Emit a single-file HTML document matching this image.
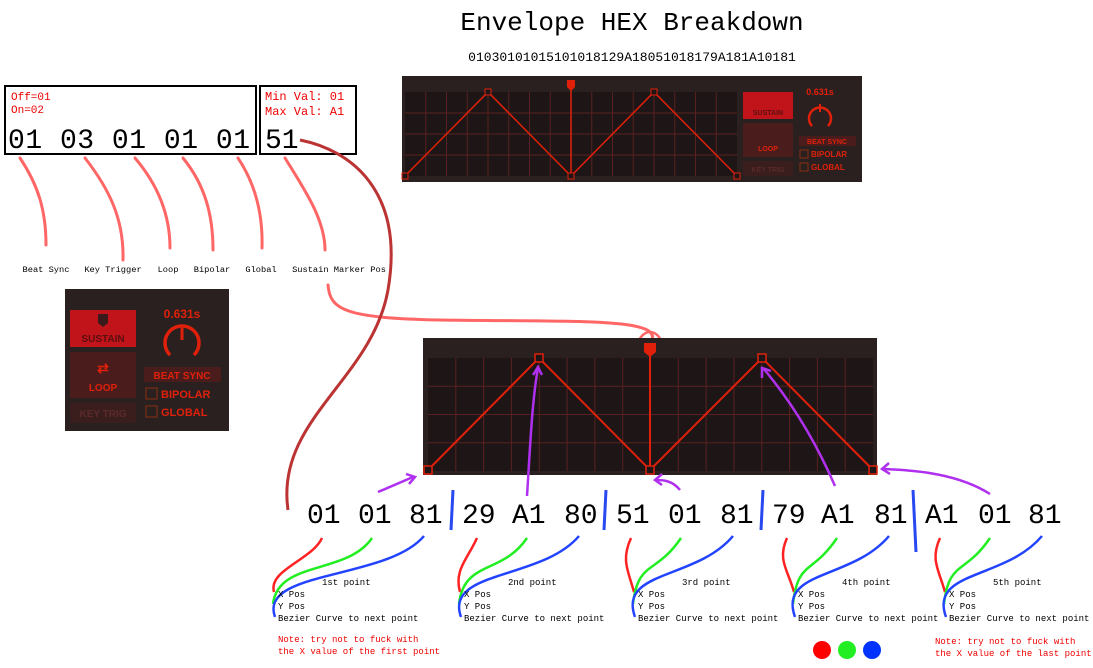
<!DOCTYPE html>
<html><head><meta charset="utf-8"><style>
body{margin:0;background:#fff;width:1093px;height:668px;overflow:hidden}
svg{display:block}
.m{font-family:"Liberation Mono",monospace}
.ui{font-family:"Liberation Sans",sans-serif;font-weight:bold}
</style></head><body>
<svg width="1093" height="668" viewBox="0 0 1093 668">
<text class="m" x="632" y="30" font-size="26" text-anchor="middle">Envelope HEX Breakdown</text>
<text class="m" x="632" y="61" font-size="13" text-anchor="middle">01030101015101018129A18051018179A181A10181</text>

<g>
<rect x="5" y="86" width="251" height="68" fill="none" stroke="#000" stroke-width="2"/>
<text class="m" x="11" y="100" font-size="11" fill="#e00">Off=01</text>
<text class="m" x="11" y="113" font-size="11" fill="#e00">On=02</text>
<text class="m" x="8" y="148" font-size="28" textLength="242">01 03 01 01 01</text>
</g>
<g>
<rect x="260" y="86" width="96" height="68" fill="none" stroke="#000" stroke-width="2"/>
<text class="m" x="265" y="100" font-size="12" fill="#e00">Min Val: 01</text>
<text class="m" x="265" y="115" font-size="12" fill="#e00">Max Val: A1</text>
<text class="m" x="265" y="148" font-size="28">51</text>
</g>

<g fill="none" stroke="#f66" stroke-width="3" stroke-linecap="round">
<path d="M20,158 C38,185 46,210 46,245"/>
<path d="M85,158 C110,190 124,220 123,260"/>
<path d="M135,158 C158,185 170,215 170,248"/>
<path d="M183,158 C205,185 213,215 213,250"/>
<path d="M238,158 C256,185 263,215 262,248"/>
<path d="M285,158 C305,190 325,220 325,250"/>
<path d="M328,285 C330,310 345,318 440,320 C580,322 660,318 652,340"/>
</g>
<ellipse cx="650" cy="350" rx="13" ry="18" fill="none" stroke="#f66" stroke-width="2.5"/>
<path d="M300,140 C350,150 405,190 388,290 C372,380 275,420 288,510" fill="none" stroke="#b33" stroke-width="3"/>

<g class="m" font-size="8.7" text-anchor="middle">
<text x="46" y="272">Beat Sync</text><text x="113" y="272">Key Trigger</text><text x="168" y="272">Loop</text>
<text x="212" y="272">Bipolar</text><text x="261" y="272">Global</text><text x="339" y="272">Sustain Marker Pos</text>
</g>

<g>
<rect x="402" y="76" width="460" height="106" fill="#2b2020"/>
<rect x="405" y="92" width="332" height="84" fill="#1e1616"/>
<g stroke="#5a2020" stroke-width="1" id="g1"></g>
<polyline points="405,176 488,92 571,176 654,92 737,176" fill="none" stroke="#e0200a" stroke-width="1.5"/>
<line x1="571" y1="85" x2="571" y2="176" stroke="#e0200a" stroke-width="1.5"/>
<path d="M567,80 h8 v7 l-4,4 l-4,-4z" fill="#e0200a"/>
<g fill="#1e1616" stroke="#e0200a"><rect x="402" y="173" width="6" height="6"/><rect x="485" y="89" width="6" height="6"/><rect x="568" y="173" width="6" height="6"/><rect x="651" y="89" width="6" height="6"/><rect x="734" y="173" width="6" height="6"/></g>
<rect x="743" y="92" width="50" height="27" fill="#c0141a"/><text class="ui" x="768" y="115" font-size="7" text-anchor="middle" fill="#5a1010">SUSTAIN</text>
<rect x="743" y="123" width="50" height="34" fill="#4a1c1c"/><text class="ui" x="768" y="151" font-size="7" text-anchor="middle" fill="#e0200a">LOOP</text>
<rect x="743" y="161" width="50" height="15" fill="#3a1e1e"/><text class="ui" x="768" y="172" font-size="7" text-anchor="middle" fill="#5a2a2a">KEY TRIG</text>
<text class="ui" x="820" y="95" font-size="9" text-anchor="middle" fill="#e0200a">0.631s</text>
<path d="M812,126 A11,11 0 1 1 828,126" fill="none" stroke="#e0200a" stroke-width="2.5"/><line x1="820" y1="104" x2="820" y2="112" stroke="#e0200a" stroke-width="2"/>
<rect x="799" y="136" width="57" height="10" fill="#4a1c1c"/><text class="ui" x="827" y="144" font-size="7" text-anchor="middle" fill="#e0200a">BEAT SYNC</text>
<rect x="800" y="150" width="8" height="8" fill="none" stroke="#8a3010"/><text class="ui" x="811" y="157" font-size="8" fill="#e0200a">BIPOLAR</text>
<rect x="800" y="163" width="8" height="8" fill="none" stroke="#8a3010"/><text class="ui" x="811" y="170" font-size="8" fill="#e0200a">GLOBAL</text>
</g>

<g>
<rect x="65" y="289" width="164" height="142" fill="#2b2020"/>
<rect x="70" y="310" width="66" height="37" fill="#c0141a"/><path d="M98,314 h10 v9 l-5,4 l-5,-4z" fill="#3a1a1a"/><text class="ui" x="103" y="342" font-size="10" text-anchor="middle" fill="#5a1010">SUSTAIN</text>
<rect x="70" y="352" width="66" height="46" fill="#4a1c1c"/><text class="ui" x="103" y="373" font-size="14" text-anchor="middle" fill="#e0200a">⇄</text><text class="ui" x="103" y="391" font-size="10" text-anchor="middle" fill="#e0200a">LOOP</text>
<rect x="70" y="403" width="66" height="20" fill="#3a1e1e"/><text class="ui" x="103" y="417" font-size="10" text-anchor="middle" fill="#5a2a2a">KEY TRIG</text>
<text class="ui" x="182" y="318" font-size="12" text-anchor="middle" fill="#e0200a">0.631s</text>
<path d="M170,355 A17,17 0 1 1 194,355" fill="none" stroke="#e0200a" stroke-width="3.5"/><line x1="182" y1="328" x2="182" y2="340" stroke="#e0200a" stroke-width="3"/>
<rect x="144" y="367" width="77" height="15" fill="#4a1c1c"/><text class="ui" x="182" y="379" font-size="10" text-anchor="middle" fill="#e0200a">BEAT SYNC</text>
<rect x="146" y="388" width="11" height="11" fill="none" stroke="#8a3010"/><text class="ui" x="161" y="398" font-size="11" fill="#e0200a">BIPOLAR</text>
<rect x="146" y="406" width="11" height="11" fill="none" stroke="#8a3010"/><text class="ui" x="161" y="416" font-size="11" fill="#e0200a">GLOBAL</text>
</g>

<g>
<rect x="423" y="338" width="454" height="137" fill="#2b2020"/>
<rect x="428" y="358" width="445" height="113" fill="#1e1616"/>
<g stroke="#5a2020" stroke-width="1" id="g2"></g>
<polyline points="428,470 539,358 650,470 762,358 873,470" fill="none" stroke="#e0200a" stroke-width="2"/>
<line x1="650" y1="350" x2="650" y2="470" stroke="#e0200a" stroke-width="2"/>
<path d="M644,343 h12 v9 l-6,5 l-6,-5z" fill="#e0200a"/>
<g fill="#1e1616" stroke="#e0200a" stroke-width="1.5"><rect x="424" y="466" width="8" height="8"/><rect x="535" y="354" width="8" height="8"/><rect x="646" y="466" width="8" height="8"/><rect x="758" y="354" width="8" height="8"/><rect x="869" y="466" width="8" height="8"/></g>
</g>

<g class="m" font-size="28">
<text x="307" y="523">01</text><text x="358" y="523">01</text><text x="409" y="523">81</text>
<text x="462" y="523">29</text><text x="512" y="523">A1</text><text x="564" y="523">80</text>
<text x="616" y="523">51</text><text x="668" y="523">01</text><text x="720" y="523">81</text>
<text x="772" y="523">79</text><text x="821" y="523">A1</text><text x="874" y="523">81</text>
<text x="925" y="523">A1</text><text x="978" y="523">01</text><text x="1028" y="523">81</text>
</g>
<g stroke="#2848f0" stroke-width="3">
<line x1="453" y1="490" x2="451" y2="530"/><line x1="606" y1="490" x2="604" y2="530"/><line x1="763" y1="490" x2="761" y2="530"/><line x1="913" y1="490" x2="916" y2="552"/>
</g>
<g fill="none" stroke="#b030f0" stroke-width="2.5">
<path d="M378,492 L413,477"/><path d="M406,474 l9,3 l-6,7"/>
<path d="M527,496 C530,450 532,400 538,368"/><path d="M533,375 l5,-8 l4,8"/>
<path d="M680,490 C672,480 662,480 656,480"/><path d="M662,474 l-7,6 l7,5"/>
<path d="M835,486 C815,440 790,400 763,368"/><path d="M762,378 l0,-10 l9,3"/>
<path d="M990,494 C960,475 920,470 882,469"/><path d="M889,463 l-7,6 l8,5"/>
</g>

<g id="groups"></g>

<g class="m" font-size="9" fill="#e00">
<text x="278" y="642">Note: try not to fuck with</text><text x="278" y="654">the X value of the first point</text>
<text x="935" y="644">Note: try not to fuck with</text><text x="935" y="656">the X value of the last point</text>
</g>
<circle cx="822" cy="650" r="9" fill="#f00"/>
<circle cx="847" cy="650" r="9" fill="#2e2"/>
<circle cx="872" cy="650" r="9" fill="#03f"/>
</svg>
<script>
const NS='http://www.w3.org/2000/svg';
function grid(id,x0,y0,x1,y1,nx,ny){
  const g=document.getElementById(id);
  for(let i=1;i<nx;i++){const x=x0+(x1-x0)*i/nx;const l=document.createElementNS(NS,'line');l.setAttribute('x1',x);l.setAttribute('x2',x);l.setAttribute('y1',y0);l.setAttribute('y2',y1);g.appendChild(l);}
  for(let j=1;j<ny;j++){const y=y0+(y1-y0)*j/ny;const l=document.createElementNS(NS,'line');l.setAttribute('x1',x0);l.setAttribute('x2',x1);l.setAttribute('y1',y);l.setAttribute('y2',y);g.appendChild(l);}
}
grid('g1',405,92,737,176,16,4);
grid('g2',428,358,873,471,16,4);
const groupX=[278,464,638,798,949];
const groupNames=['1st point','2nd point','3rd point','4th point','5th point'];
const hexX=[307,462,616,772,925];
const G=document.getElementById('groups');
groupX.forEach((gx,i)=>{
  const g=document.createElementNS(NS,'g');
  
  
  const h=hexX[i];
  const curves=[[`M${h+15},538 C${h+5},560 ${gx-10},570 ${gx-4},592`,'#f22'],[`M${h+65},538 C${h+40},575 ${gx},560 ${gx-5},604`,'#2e2'],[`M${h+117},536 C${h+80},580 ${gx-20},570 ${gx-3},617`,'#24f']];
  curves.forEach(c=>{const p=document.createElementNS(NS,'path');p.setAttribute('d',c[0]);p.setAttribute('fill','none');p.setAttribute('stroke',c[1]);p.setAttribute('stroke-width','2.5');g.appendChild(p);});
  const t=[[gx+44,585,groupNames[i]],[gx,597,'X Pos'],[gx,609,'Y Pos'],[gx,621,'Bezier Curve to next point']];
  t.forEach(a=>{const e=document.createElementNS(NS,'text');e.setAttribute('x',a[0]);e.setAttribute('y',a[1]);e.setAttribute('font-size','9');e.setAttribute('font-family','Liberation Mono, monospace');e.textContent=a[2];g.appendChild(e);});
  G.appendChild(g);
});
</script>
</body></html>
